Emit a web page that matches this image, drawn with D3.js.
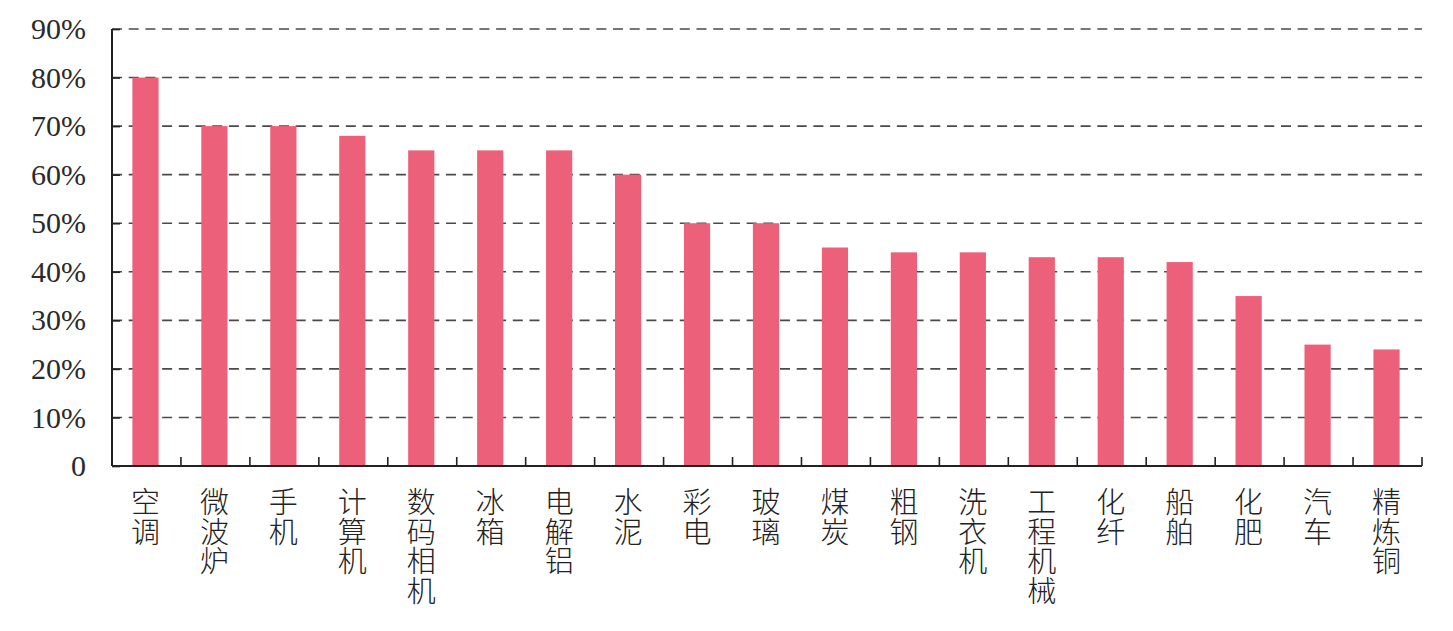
<!DOCTYPE html>
<html>
<head>
<meta charset="utf-8">
<script src="https://cdn.jsdelivr.net/npm/d3@7"></script>
<style>
  html, body { margin: 0; padding: 0; background: #fff; }
  svg { display: block; }
</style>
</head>
<body>
<svg id="chart" width="1453" height="631"></svg>
<script>
const categories = ["空调","微波炉","手机","计算机","数码相机","冰箱","电解铝","水泥","彩电","玻璃","煤炭","粗钢","洗衣机","工程机械","化纤","船舶","化肥","汽车","精炼铜"];
const values = [0.80,0.70,0.70,0.68,0.65,0.65,0.65,0.60,0.50,0.50,0.45,0.44,0.44,0.43,0.43,0.42,0.35,0.25,0.24];
const yTicks = [0,0.1,0.2,0.3,0.4,0.5,0.6,0.7,0.8,0.9];

const svg = d3.select("#chart");
const mLeft = 112, mRight = 1422, mTop = 29, mBottom = 466;

const x = d3.scaleBand().domain(categories).range([mLeft, mRight])
  .paddingInner(0.62).paddingOuter(0.31);
const y = d3.scaleLinear().domain([0, 0.9]).range([mBottom, mTop]);

// gridlines
svg.append("g").selectAll("line").data(yTicks.filter(d => d > 0)).join("line")
  .attr("x1", mLeft).attr("x2", mRight)
  .attr("y1", d => y(d)).attr("y2", d => y(d))
  .attr("stroke", "#4a4a4a").attr("stroke-width", 1.6)
  .attr("stroke-dasharray", "10,6.7");

// bars
svg.append("g").selectAll("rect").data(categories).join("rect")
  .attr("x", d => x(d) - 1).attr("width", x.bandwidth())
  .attr("y", (d, i) => y(values[i])).attr("height", (d, i) => mBottom - y(values[i]))
  .attr("fill", "#ED607A");

// y axis
const yAxis = svg.append("g").attr("transform", `translate(${mLeft},0)`)
  .call(d3.axisLeft(y).tickValues(yTicks).tickSize(-8).tickPadding(26)
    .tickFormat(d => d === 0 ? "0" : d3.format(".0%")(d)));
yAxis.select(".domain").attr("d", `M0,${mTop}V${mBottom}`).attr("stroke", "#222").attr("stroke-width", 2);
yAxis.selectAll(".tick line").attr("stroke", "#222").attr("stroke-width", 1.6);
yAxis.selectAll(".tick text")
  .attr("font-family", "'Liberation Serif', 'Times New Roman', serif")
  .attr("font-size", 30).attr("fill", "#2a2a2a");

// x axis
const step = x.step();
const boundaries = categories.map(c => x(c) + x.bandwidth() + step * x.paddingInner() / 2);
svg.append("line").attr("x1", mLeft).attr("x2", mRight).attr("y1", mBottom).attr("y2", mBottom)
  .attr("stroke", "#222").attr("stroke-width", 2);
svg.append("g").selectAll("line").data(boundaries).join("line")
  .attr("x1", d => d).attr("x2", d => d).attr("y1", mBottom).attr("y2", mBottom - 9)
  .attr("stroke", "#222").attr("stroke-width", 1.6);

// vertical category labels (one character per row)
const charH = 29.5;
const labels = svg.append("g").selectAll("text").data(categories).join("text")
  .attr("font-family", "'Noto Sans CJK SC', sans-serif")
  .attr("font-weight", 300)
  .attr("font-size", 29).attr("fill", "#222")
  .attr("text-anchor", "middle");
labels.each(function(c) {
  const cx = x(c) + x.bandwidth() / 2 - 1;
  const t = d3.select(this);
  Array.from(c).forEach((ch, i) => {
    t.append("tspan").attr("x", cx).attr("y", 488 + 25 + i * charH).text(ch);
  });
});
</script>
</body>
</html>
